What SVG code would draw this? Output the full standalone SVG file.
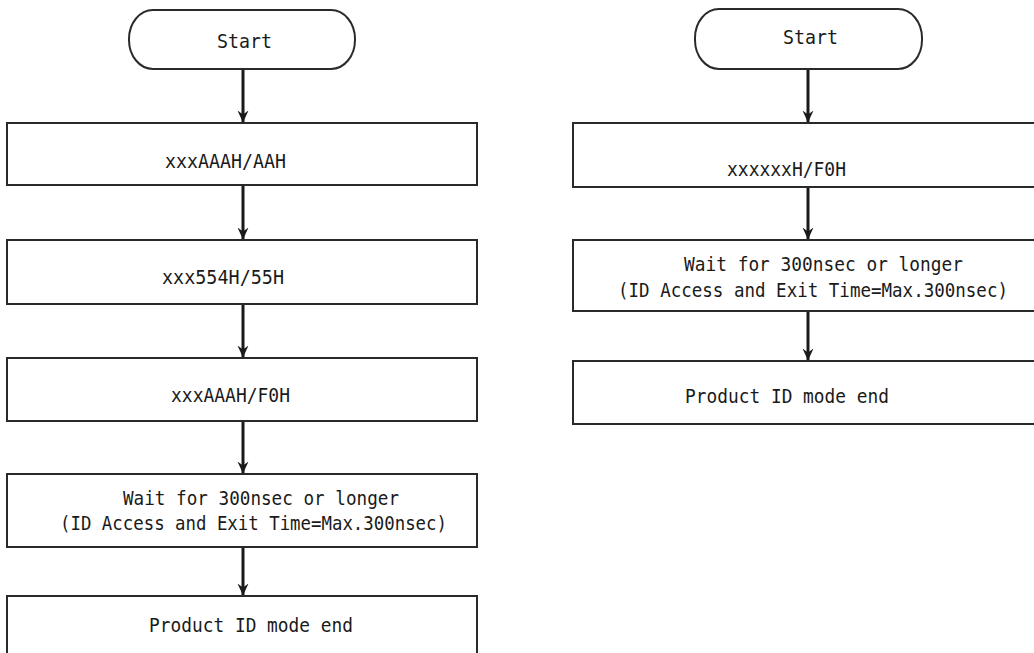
<svg xmlns="http://www.w3.org/2000/svg" width="1034" height="653" viewBox="0 0 1034 653">
<style>
.box{fill:#fff;stroke:#2a2a2a;stroke-width:2}
.t{font-family:"DejaVu Sans Mono","Liberation Mono",monospace;font-size:19.5px;fill:#1a1a1a}
.c{stroke:#1a1a1a;stroke-width:3;fill:none}
</style>
<defs>
<marker id="ah" viewBox="0 0 12 12" refX="11.5" refY="6" markerWidth="12" markerHeight="12" markerUnits="userSpaceOnUse" orient="auto">
<path d="M0,0.5 L12,6 L0,11.5 L4,6 Z" fill="#1a1a1a"/>
</marker>
</defs>
<rect width="1034" height="653" fill="#fff"/>
<g id="connectors">
<line class="c" x1="243" y1="69" x2="243" y2="122" marker-end="url(#ah)"/>
<line class="c" x1="243" y1="185" x2="243" y2="239" marker-end="url(#ah)"/>
<line class="c" x1="243" y1="304" x2="243" y2="357" marker-end="url(#ah)"/>
<line class="c" x1="243" y1="421" x2="243" y2="473" marker-end="url(#ah)"/>
<line class="c" x1="243" y1="547" x2="243" y2="595" marker-end="url(#ah)"/>
<line class="c" x1="808" y1="69" x2="808" y2="122" marker-end="url(#ah)"/>
<line class="c" x1="808" y1="187" x2="808" y2="239" marker-end="url(#ah)"/>
<line class="c" x1="808" y1="311" x2="808" y2="360" marker-end="url(#ah)"/>
</g>
<g id="L-start"><rect class="box" x="129" y="10" width="226" height="59" rx="24" ry="29"/><text class="t" x="217" y="48" textLength="55" lengthAdjust="spacingAndGlyphs">Start</text></g>
<g id="L-step1"><rect class="box" x="7" y="123" width="470" height="62"/><text class="t" x="165" y="168" textLength="121" lengthAdjust="spacingAndGlyphs">xxxAAAH/AAH</text></g>
<g id="L-step2"><rect class="box" x="7" y="240" width="470" height="64"/><text class="t" x="162" y="284" textLength="122" lengthAdjust="spacingAndGlyphs">xxx554H/55H</text></g>
<g id="L-step3"><rect class="box" x="7" y="358" width="470" height="63"/><text class="t" x="171" y="402" textLength="119" lengthAdjust="spacingAndGlyphs">xxxAAAH/F0H</text></g>
<g id="L-wait"><rect class="box" x="7" y="474" width="470" height="73"/><text class="t" x="123" y="505" textLength="276" lengthAdjust="spacingAndGlyphs">Wait for 300nsec or longer</text><text class="t" x="60" y="530" textLength="387" lengthAdjust="spacingAndGlyphs">(ID Access and Exit Time=Max.300nsec)</text></g>
<g id="L-end"><rect class="box" x="7" y="596" width="470" height="70"/><text class="t" x="149" y="632" textLength="204" lengthAdjust="spacingAndGlyphs">Product ID mode end</text></g>
<g id="R-start"><rect class="box" x="695" y="9" width="227" height="60" rx="24" ry="29"/><text class="t" x="783" y="44" textLength="55" lengthAdjust="spacingAndGlyphs">Start</text></g>
<g id="R-step1"><rect class="box" x="573" y="123" width="470" height="64"/><text class="t" x="727" y="176" textLength="119" lengthAdjust="spacingAndGlyphs">xxxxxxH/F0H</text></g>
<g id="R-wait"><rect class="box" x="573" y="240" width="470" height="71"/><text class="t" x="684" y="271" textLength="279" lengthAdjust="spacingAndGlyphs">Wait for 300nsec or longer</text><text class="t" x="618" y="297" textLength="390" lengthAdjust="spacingAndGlyphs">(ID Access and Exit Time=Max.300nsec)</text></g>
<g id="R-end"><rect class="box" x="573" y="361" width="470" height="63"/><text class="t" x="685" y="403" textLength="204" lengthAdjust="spacingAndGlyphs">Product ID mode end</text></g>
</svg>
